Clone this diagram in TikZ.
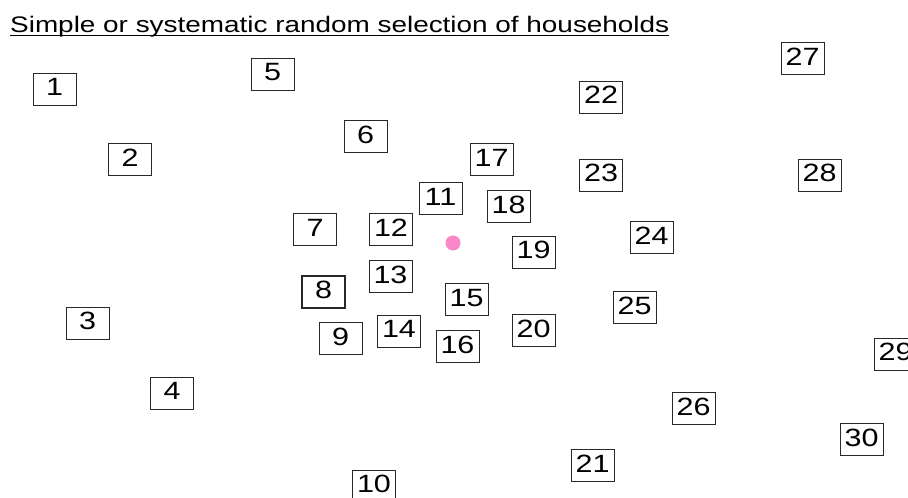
\documentclass[tikz,border=0pt]{standalone}
\usepackage{fontspec}
\newfontfamily\boxfont[FakeStretch=1.22]{Liberation Sans}
\newfontfamily\titlefont[FakeStretch=1.24]{Liberation Sans}
\definecolor{dotpink}{RGB}{250,135,200}
\definecolor{boxline}{RGB}{40,40,40}
\tikzset{
  house/.style={draw=boxline, line width=1pt, minimum width=43pt, minimum height=32pt,
    inner sep=0pt, text depth=4pt, font=\boxfont\fontsize{25}{25}\selectfont},
  househeavy/.style={house, line width=1.8pt},
  heading/.style={anchor=base west, inner sep=0pt, font=\titlefont\fontsize{22.5}{24}\selectfont},
  centre/.style={circle, fill=dotpink, minimum size=15pt, inner sep=0pt}
}
\begin{document}
\begin{tikzpicture}[x=1pt,y=-1pt]
\useasboundingbox (0,0) rectangle (908,498);
\clip (0,0) rectangle (908,498);
\fill[white] (0,0) rectangle (908,498);
\node[heading] (title) at (10,32) {Simple or systematic random selection of households};
\draw[line width=1pt] ([yshift=-3pt]title.base west) -- ([yshift=-3pt]title.base east);
\node[house] (h1) at (54.5,89) {1};
\node[house] (h2) at (130,159.5) {2};
\node[house] (h3) at (87.5,323) {3};
\node[house] (h4) at (172,393) {4};
\node[house] (h5) at (272.5,74) {5};
\node[house] (h6) at (365.5,136.5) {6};
\node[house] (h7) at (315,229.5) {7};
\node[househeavy] (h8) at (323.5,292) {8};
\node[house] (h9) at (340.5,338.5) {9};
\node[house] (h10) at (374,486) {10};
\node[house] (h11) at (440.5,198.5) {11};
\node[house] (h12) at (391,229.5) {12};
\node[house] (h13) at (390.5,276.5) {13};
\node[house] (h14) at (399,331) {14};
\node[house] (h15) at (466.5,299.5) {15};
\node[house] (h16) at (457.5,346.5) {16};
\node[house] (h17) at (491.5,159.5) {17};
\node[house] (h18) at (508.5,206.5) {18};
\node[house] (h19) at (533.5,252) {19};
\node[house] (h20) at (533.5,330.5) {20};
\node[house] (h21) at (592.5,465.5) {21};
\node[house] (h22) at (601,97) {22};
\node[house] (h23) at (601,175) {23};
\node[house] (h24) at (651.5,237.5) {24};
\node[house] (h25) at (634.5,307.5) {25};
\node[house] (h26) at (693.5,408.5) {26};
\node[house] (h27) at (802.5,58.5) {27};
\node[house] (h28) at (819.5,175) {28};
\node[house] (h29) at (895.5,354) {29};
\node[house] (h30) at (861.5,439.5) {30};
\node[centre] (dot) at (453,243) {};
\end{tikzpicture}
\end{document}
